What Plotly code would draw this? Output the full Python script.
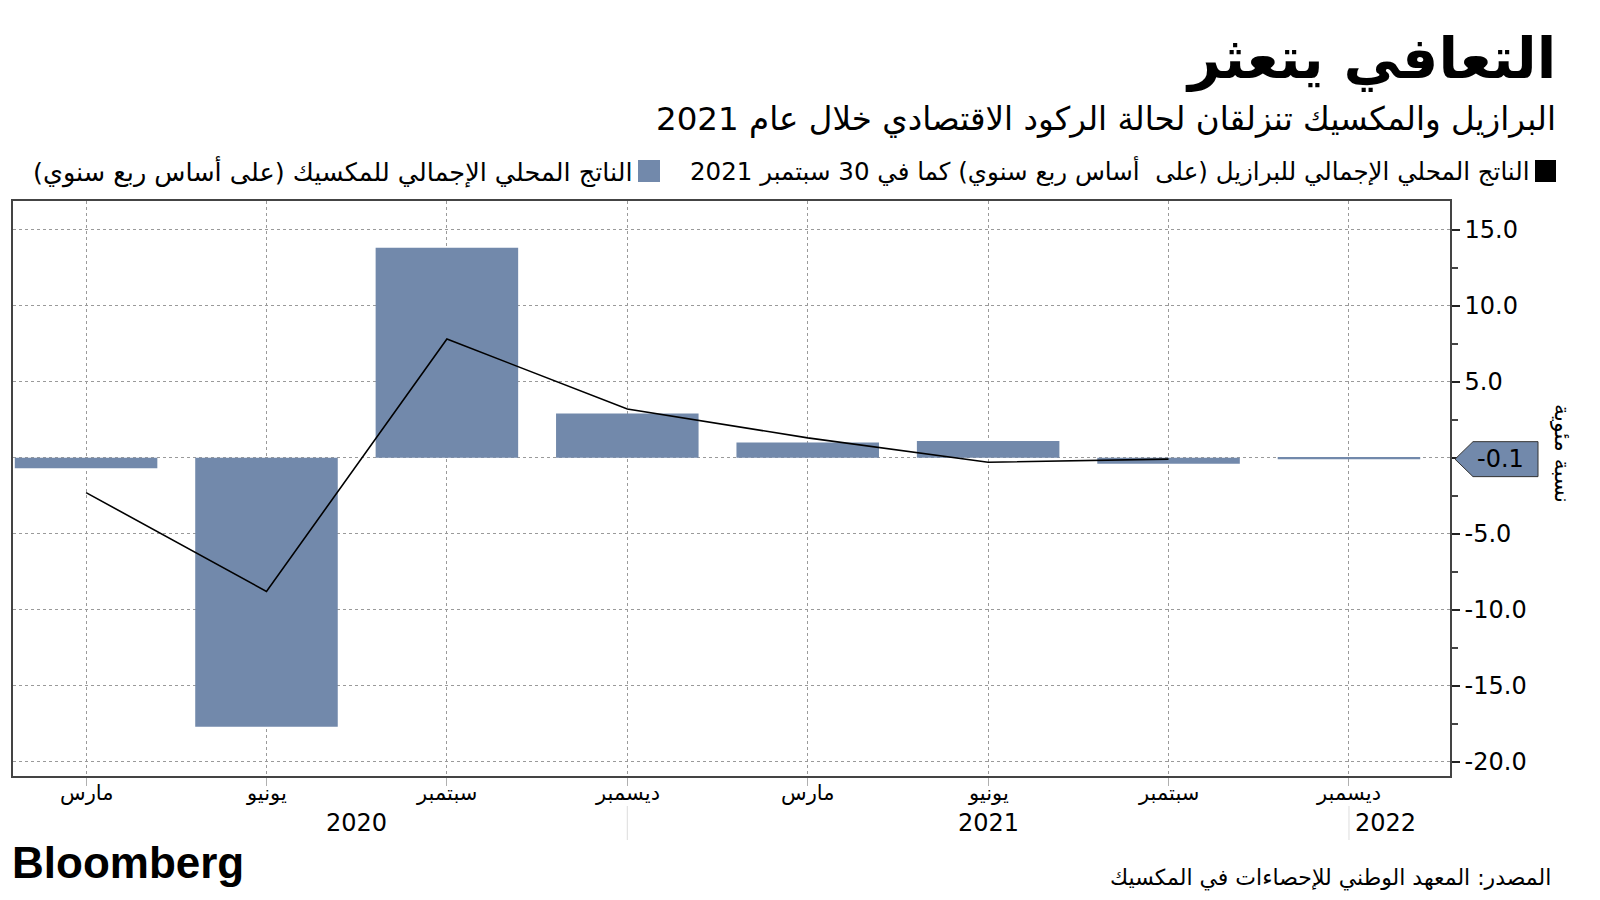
import plotly.graph_objects as go

# ---- data ----
quarters = ["Q1 2020", "Q2 2020", "Q3 2020", "Q4 2020", "Q1 2021", "Q2 2021", "Q3 2021", "Q4 2021"]
month_labels = ["مارس", "يونيو", "سبتمبر", "ديسمبر", "مارس", "يونيو", "سبتمبر", "ديسمبر"]
mexico_gdp = [-0.7, -17.7, 13.8, 2.9, 1.0, 1.1, -0.4, -0.1]
brazil_gdp = [-2.3, -8.8, 7.8, 3.2, 1.3, -0.3, -0.1, None]
year_labels = ["2020", "2021", "2022"]
year_pos = [1.5, 5.0, 7.2]
y_ticks = [15, 10, 5, 0, -5, -10, -15, -20]
y_tick_text = ["15.0", "10.0", "5.0", "", "-5.0", "-10.0", "-15.0", "-20.0"]

title = "التعافي يتعثر"
subtitle = "البرازيل والمكسيك تنزلقان لحالة الركود الاقتصادي خلال عام 2021"
legend_brazil = "الناتج المحلي الإجمالي للبرازيل (على  أساس ربع سنوي) كما في 30 سبتمبر 2021"
legend_mexico = "الناتج المحلي الإجمالي للمكسيك (على أساس ربع سنوي)"
source = "المصدر: المعهد الوطني للإحصاءات في المكسيك"
y_title = "نسبة مئوية"

BAR = "#7289AB"
FONT = "DejaVu Sans"
x = list(range(len(quarters)))

fig = go.Figure()
fig.add_trace(go.Bar(x=x, y=mexico_gdp, marker=dict(color=BAR, line=dict(width=0)),
                     width=0.79, name=legend_mexico, showlegend=False))
fig.add_trace(go.Scatter(x=x, y=brazil_gdp, mode="lines", line=dict(color="black", width=1.6),
                         name=legend_brazil, showlegend=False, connectgaps=False))

W, H = 1600, 900
ml, mr, mt, mb = 13, 150, 201, 124
fig.update_layout(
    width=W, height=H,
    margin=dict(l=ml, r=mr, t=mt, b=mb),
    paper_bgcolor="white", plot_bgcolor="white",
    font=dict(family=FONT, color="black"),
    bargap=0.2,
)
fig.update_xaxes(
    range=[-0.405, 7.56], tickmode="array", tickvals=x, ticktext=[""] * len(x),
    showgrid=True, gridcolor="#9a9a9a", griddash="dot", gridwidth=1,
    ticks="outside", ticklen=8, tickcolor="#b0b0b0", tickwidth=1,
    showline=True, linecolor="#444", linewidth=1.5,
    mirror=True, zeroline=False,
)
fig.update_yaxes(
    side="right", range=[-20.94, 16.88], tickmode="array", tickvals=y_ticks, ticktext=y_tick_text,
    showgrid=True, gridcolor="#9a9a9a", griddash="dot", gridwidth=1,
    ticks="outside", ticklen=8, tickcolor="#222", tickwidth=2,
    minor=dict(dtick=2.5, ticks="outside", ticklen=6, tickcolor="#444", showgrid=False),
    tickfont=dict(size=24, family=FONT), showline=True, linecolor="#444", linewidth=1.5,
    mirror=True, zeroline=False,
)


def px(xp):
    return (xp - ml) / (W - ml - mr)


def py(yp):
    return (H - mb - yp) / (H - mt - mb)


ann = []
shapes = []
# title and subtitle
ann.append(dict(text=f"<b>{title}</b>", x=px(1558), y=py(58), xref="paper", yref="paper",
                showarrow=False, font=dict(size=57, family=FONT), xanchor="right", yanchor="middle"))
ann.append(dict(text=subtitle, x=px(1558), y=py(119), xref="paper", yref="paper",
                showarrow=False, font=dict(size=32.5, family=FONT), xanchor="right", yanchor="middle"))

# legend
leg_y = 171
shapes.append(dict(type="rect", xref="paper", yref="paper", x0=px(1535), x1=px(1556),
                   y0=py(leg_y + 11), y1=py(leg_y - 11), fillcolor="black", line=dict(width=0)))
ann.append(dict(text=legend_brazil, x=px(1532), y=py(leg_y), xref="paper", yref="paper",
                showarrow=False, font=dict(size=24.5, family=FONT), xanchor="right", yanchor="middle"))
shapes.append(dict(type="rect", xref="paper", yref="paper", x0=px(638), x1=px(660),
                   y0=py(leg_y + 11), y1=py(leg_y - 11), fillcolor=BAR, line=dict(width=0)))
ann.append(dict(text=legend_mexico, x=px(635), y=py(leg_y), xref="paper", yref="paper",
                showarrow=False, font=dict(size=25.5, family=FONT), xanchor="right", yanchor="middle"))

# month tick labels
for xv, ml_txt in zip(x, month_labels):
    ann.append(dict(text=ml_txt, x=xv, y=py(793), xref="x", yref="paper", showarrow=False,
                    font=dict(size=21, family=FONT), xanchor="center", yanchor="middle"))

# year labels
for yl, xp in zip(year_labels, year_pos):
    ann.append(dict(text=yl, x=xp, y=py(823), xref="x", yref="paper", showarrow=False,
                    font=dict(size=24, family=FONT), xanchor="center", yanchor="middle"))
# year separators
for xs in [3, 7]:
    shapes.append(dict(type="line", xref="x", yref="paper", x0=xs, x1=xs, y0=py(806), y1=py(840),
                       line=dict(color="#dddddd", width=1)))

# last value callout
last = mexico_gdp[-1]
h = 1.15
x0, x1, xt = px(1455), px(1538), px(1473)
shapes.append(dict(type="path", xref="paper", yref="y",
                   path=f"M {x0},{last} L {xt},{last + h} L {x1},{last + h} L {x1},{last - h} L {xt},{last - h} Z",
                   fillcolor=BAR, line=dict(color="#333", width=1)))
ann.append(dict(text=f"{last:.1f}", x=px(1500), y=last, xref="paper", yref="y", showarrow=False,
                font=dict(size=24, family=FONT), xanchor="center", yanchor="middle"))

# y axis title
ann.append(dict(text=y_title, x=px(1563), y=py(453), xref="paper", yref="paper", showarrow=False,
                textangle=90, font=dict(size=22, family=FONT), xanchor="center", yanchor="middle"))

# footer
ann.append(dict(text="<b>Bloomberg</b>", x=px(10), y=py(862), xref="paper", yref="paper", showarrow=False,
                font=dict(size=44, family="Liberation Sans"), xanchor="left", yanchor="middle"))
ann.append(dict(text=source, x=px(1553), y=py(878), xref="paper", yref="paper", showarrow=False,
                font=dict(size=22, family=FONT), xanchor="right", yanchor="middle"))

fig.update_layout(annotations=ann, shapes=shapes)
fig.write_html("out.html", config={"displayModeBar": False},
               post_script="document.body.style.margin='0';document.body.style.overflow='hidden';")
